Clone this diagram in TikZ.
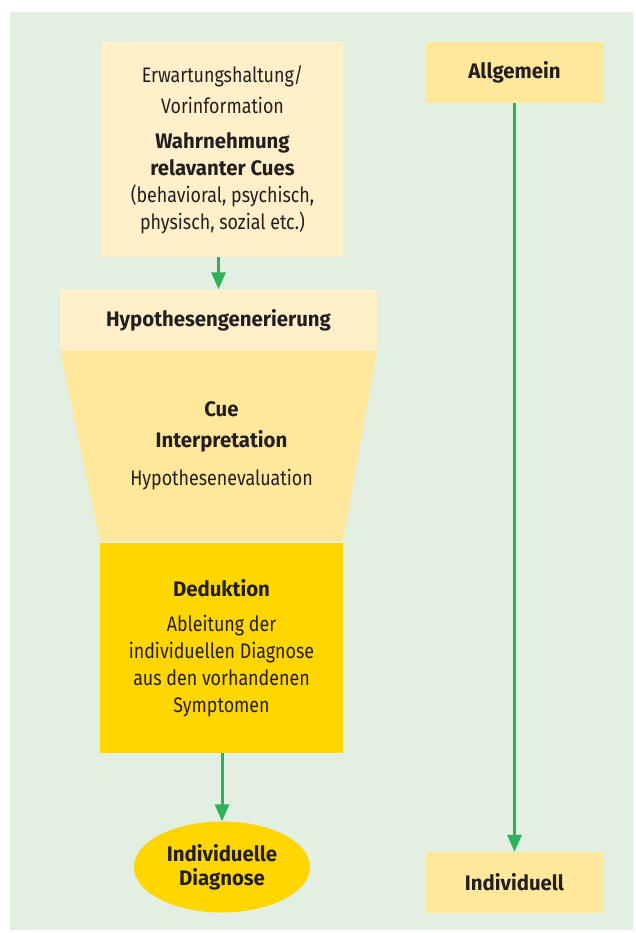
\documentclass[tikz,border=0pt]{standalone}
\usepackage{fontspec}
\setmainfont{Fira Sans}[FakeStretch=0.85, BoldFeatures={FakeStretch=0.97}]
\usetikzlibrary{shapes,arrows.meta}

\definecolor{bggreen}{RGB}{227,239,226}
\definecolor{cream}{RGB}{255,240,201}
\definecolor{sand}{RGB}{255,232,155}
\definecolor{gold}{RGB}{255,214,0}
\definecolor{flowgreen}{RGB}{47,177,87}
\definecolor{textgray}{RGB}{35,31,32}

\begin{document}
\begin{tikzpicture}[x=1pt,y=-1pt,
	every node/.style={text=textgray, align=center, inner sep=0pt,
		font=\fontsize{21}{27}\selectfont},
	flow/.style={draw=flowgreen, line width=3pt, -{Triangle[length=17pt,width=14pt]}}]
	
	\useasboundingbox (0,0) rectangle (635,933);
	\fill[bggreen] (10,12) rectangle (633,930);% Background
	
	% left column
	\node[fill=cream, minimum width=241pt, minimum height=215pt] (vorinfo) at (222.5,149.5)
		{Erwartungshaltung/\\[4pt] Vorinformation\\[8pt]
		 \textbf{Wahrnehmung}\\ \textbf{relavanter Cues}\\
		 (behavioral, psychisch,\\ physisch, sozial etc.)};
	\node[fill=cream, minimum width=317pt, minimum height=61pt] (hypgen) at (218.5,320)
		{\textbf{Hypothesengenerierung}};
	\fill[sand] (60,350.5) -- (377,350.5) -- (343,541) -- (100,541) -- cycle;% Funnel
	\node (interp) at (221.5,446)
		{\textbf{Cue}\\[4pt] \textbf{Interpretation}\\[11pt] Hypothesenevaluation};
	\node[fill=gold, minimum width=243pt, minimum height=210pt] (dedukt) at (221.5,648)
		{\textbf{Deduktion}\\[8pt] Ableitung der\\ individuellen Diagnose\\
		 aus den vorhandenen\\ Symptomen};
	\node[ellipse, fill=gold, minimum width=176pt, minimum height=91pt] (diagnose) at (222,867)
		{\textbf{Individuelle}\\[-3pt] \textbf{Diagnose}};
	
	% right column
	\node[fill=sand, minimum width=178pt, minimum height=61pt] (allg) at (514.5,72.5)
		{\textbf{Allgemein}};
	\node[fill=sand, minimum width=178pt, minimum height=61pt] (indiv) at (514.5,882.5)
		{\textbf{Individuell}};
	
	\draw[flow] (vorinfo.south -| hypgen.north) -- (hypgen.north);
	\draw[flow] (dedukt.south -| diagnose.north) -- (diagnose.north);
	\draw[flow] (allg.south) -- (indiv.north);
\end{tikzpicture}
\end{document}
